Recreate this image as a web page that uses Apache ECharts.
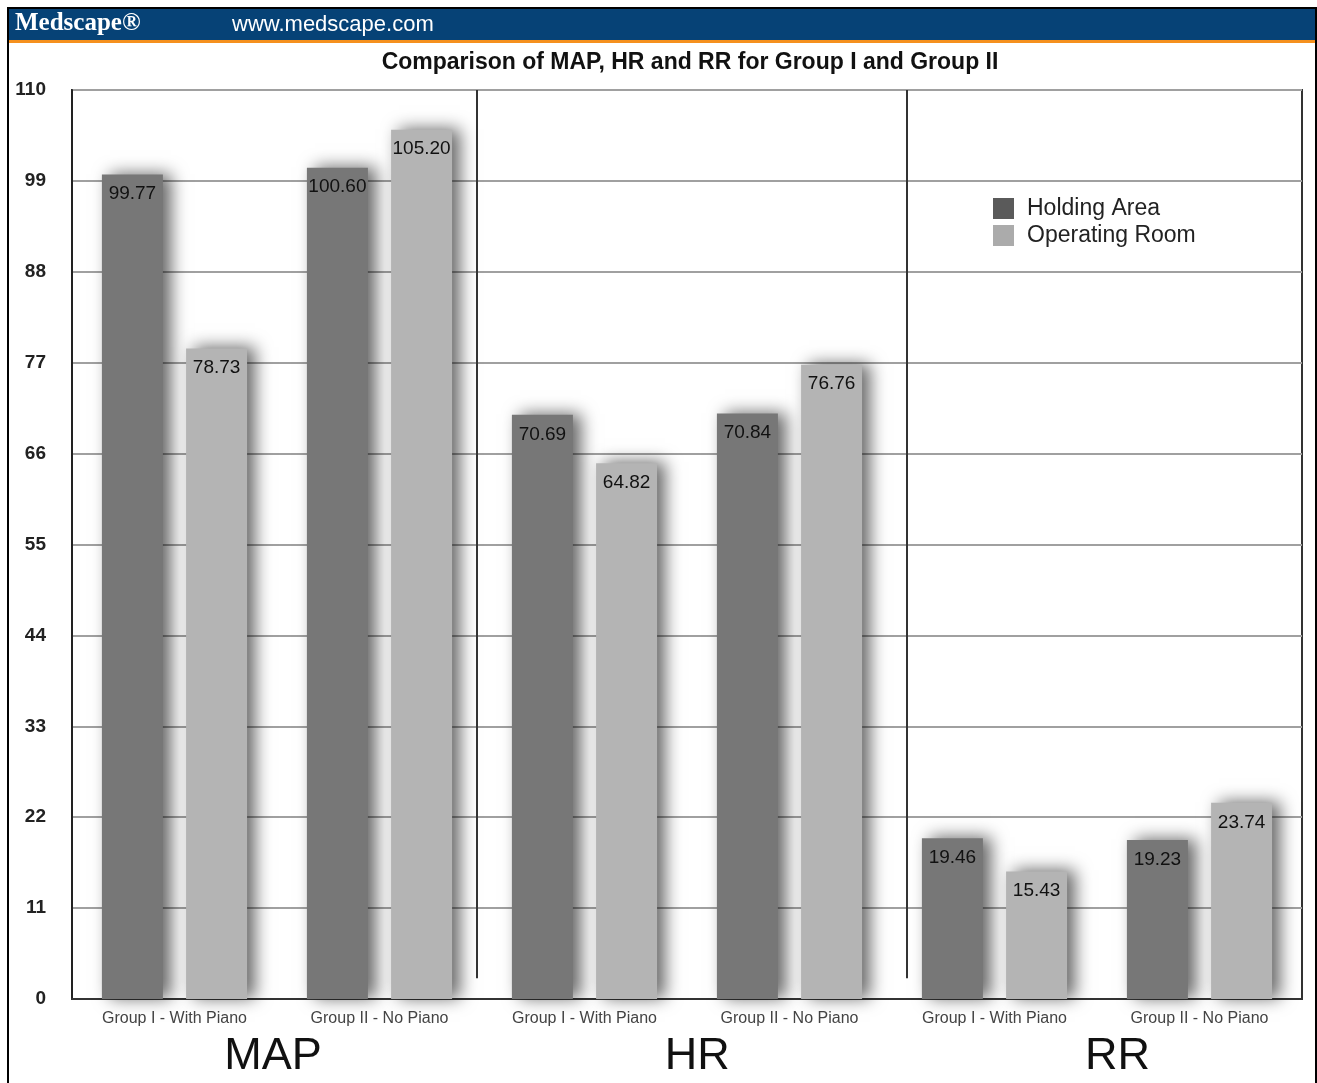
<!DOCTYPE html>
<html>
<head>
<meta charset="utf-8">
<style>
  html, body { margin: 0; padding: 0; background: #fff; }
  #chart { width: 1317px; height: 1083px; }
</style>
<script src="https://cdn.jsdelivr.net/npm/echarts@6/dist/echarts.min.js"></script>
</head>
<body>
<div id="chart"></div>
<script>
// Group labels on the category axis
const categories = [
  'Group I - With Piano', 'Group II - No Piano',
  'Group I - With Piano', 'Group II - No Piano',
  'Group I - With Piano', 'Group II - No Piano'
];
// Measure names shown under each pair of groups
const measures = ['MAP', 'HR', 'RR'];
// Mean values per group
const holdingArea = [99.77, 100.60, 70.69, 70.84, 19.46, 19.23];
const operatingRoom = [78.73, 105.20, 64.82, 76.76, 15.43, 23.74];
// Y axis ticks
const yTicks = [0, 11, 22, 33, 44, 55, 66, 77, 88, 99, 110];

const chart = echarts.init(document.getElementById('chart'));

const barShadow = {
  shadowBlur: 16,
  shadowOffsetX: 8,
  shadowOffsetY: -1,
  shadowColor: 'rgba(0,0,0,0.6)'
};

const valueLabel = {
  show: true,
  position: 'insideTop',
  distance: 10,
  fontFamily: 'Liberation Sans, Arial, sans-serif',
  fontSize: 19,
  color: '#111',
  formatter: p => p.value.toFixed(2)
};

chart.setOption({
  backgroundColor: '#fff',
  animation: false,
  graphic: [
    { type: 'rect', shape: { x: 8, y: 8, width: 1308, height: 1082 },
      style: { fill: 'none', stroke: '#000', lineWidth: 2 }, z: 100 },
    { type: 'rect', shape: { x: 9, y: 9, width: 1306, height: 31 },
      style: { fill: '#064276' } },
    { type: 'rect', shape: { x: 9, y: 40, width: 1306, height: 3 },
      style: { fill: '#f5901e' } },
    { type: 'text', x: 15, y: 24,
      style: { text: 'Medscape\u00ae', fill: '#fff', fontFamily: 'Liberation Serif, DejaVu Serif, serif',
               fontSize: 25, fontWeight: 'bold', verticalAlign: 'middle' } },
    { type: 'text', x: 232, y: 25,
      style: { text: 'www.medscape.com', fill: '#fff', fontFamily: 'Liberation Sans, Arial, sans-serif',
               fontSize: 22, verticalAlign: 'middle' } }
  ],
  title: {
    text: 'Comparison of MAP, HR and RR for Group I and Group II',
    left: 685, top: 46, textAlign: 'center',
    textStyle: { fontFamily: 'Liberation Sans, Arial, sans-serif', fontSize: 23, fontWeight: 'bold', color: '#111' }
  },
  legend: {
    orient: 'vertical',
    left: 988, top: 192,
    icon: 'rect',
    itemWidth: 21, itemHeight: 21, itemGap: 4,
    textStyle: { fontFamily: 'Liberation Sans, Arial, sans-serif', fontSize: 23, color: '#222', padding: [0, 0, 0, 8] },
    data: [
      { name: 'Holding Area', itemStyle: { color: '#5a5a5a', shadowBlur: 0, shadowOffsetX: 0, shadowOffsetY: 0 } },
      { name: 'Operating Room', itemStyle: { color: '#ababab', shadowBlur: 0, shadowOffsetX: 0, shadowOffsetY: 0 } }
    ]
  },
  grid: {
    left: 72, right: 15, top: 90, bottom: 84,
    show: true, borderColor: '#333', borderWidth: 2
  },
  xAxis: [
    {
      type: 'category',
      data: categories,
      position: 'bottom',
      axisLine: { lineStyle: { color: '#333', width: 2 } },
      axisTick: { show: false },
      axisLabel: {
        interval: 0, margin: 12,
        fontFamily: 'Liberation Sans Narrow, Liberation Sans, Arial, sans-serif',
        fontSize: 16, color: '#444'
      }
    },
    {
      type: 'value',
      min: 0, max: 6,
      position: 'bottom',
      offset: 0,
      axisLine: { show: false },
      axisTick: { show: false },
      splitLine: { show: false },
      axisLabel: {
        show: true,
        customValues: [0.98, 3.05, 5.1],
        margin: 35,
        fontFamily: 'Liberation Sans, Arial, sans-serif',
        fontSize: 45, color: '#111',
        formatter: v => measures[Math.max(0, Math.round((v - 1) / 2))]
      }
    }
  ],
  yAxis: {
    type: 'value',
    min: 0, max: 110, interval: 11,
    axisLine: { show: true, lineStyle: { color: '#222', width: 2 } },
    axisTick: { show: false },
    splitLine: { lineStyle: { color: '#a0a0a0', width: 2 } },
    axisLabel: {
      margin: 26,
      fontFamily: 'Liberation Sans, Arial, sans-serif',
      fontSize: 19, fontWeight: 'bold', color: '#222',
      formatter: v => (yTicks.indexOf(v) >= 0 ? String(v) : '')
    }
  },
  series: [
    {
      name: 'Holding Area',
      type: 'bar',
      data: holdingArea,
      barWidth: 61,
      barGap: '38%',
      itemStyle: Object.assign({ color: '#777777' }, barShadow),
      label: valueLabel,
      z: 3
    },
    {
      name: 'Operating Room',
      type: 'bar',
      data: operatingRoom,
      barWidth: 61,
      barGap: '38%',
      itemStyle: Object.assign({ color: '#b4b4b4' }, barShadow),
      label: valueLabel,
      z: 3
    },
    {
      // separators between the MAP, HR and RR panels
      name: 'separators',
      type: 'line',
      xAxisIndex: 1,
      data: [],
      silent: true,
      markLine: {
        symbol: 'none',
        silent: true,
        label: { show: false },
        lineStyle: { color: '#333', width: 2, type: 'solid' },
        data: [
          [{ coord: [1.976, 2.5] }, { coord: [1.976, 110] }],
          [{ coord: [4.07, 2.5] }, { coord: [4.07, 110] }]
        ]
      }
    }
  ]
});
</script>
</body>
</html>
